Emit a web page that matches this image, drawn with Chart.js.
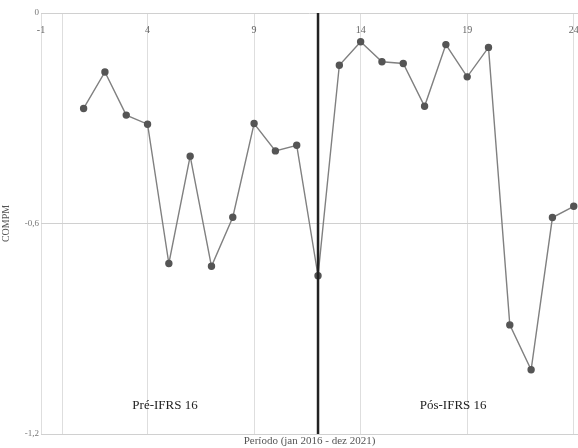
<!DOCTYPE html>
<html>
<head>
<meta charset="utf-8">
<script src="https://cdn.jsdelivr.net/npm/chart.js@4"></script>
<style>
html,body{margin:0;padding:0;background:#fff}
#wrap{width:578px;height:448px}
</style>
</head>
<body>
<div id="wrap"><canvas id="compmChart" width="578" height="448"></canvas></div>
<script>
// periodos 1..24, valores
const periods = [1,2,3,4,5,6,7,8,9,10,11,12,13,14,15,16,17,18,19,20,21,22,23,24]
const compm = [-0.272,-0.168,-0.291,-0.317,-0.714,-0.408,-0.722,-0.582,-0.315,-0.393,-0.377,-0.749,
               -0.149,-0.082,-0.139,-0.144,-0.266,-0.090,-0.182,-0.098,-0.889,-1.017,-0.583,-0.551]
const xTicks = [-1,0,4,9,14,19,24]
const yTicks = [0,-0.6,-1.2]
const breakPeriod = 12
const phaseLabels = ["Pré-IFRS 16","Pós-IFRS 16"]
const phaseX = [4.82,18.34]
const phaseY = -1.12

const serif = "'Liberation Serif','DejaVu Serif',serif"

const overlay = {
  id:"overlay",
  afterDatasetsDraw(chart){
    const c = chart.ctx
    const xs = chart.scales.x
    const ys = chart.scales.y
    const area = chart.chartArea
    c.save()
    // linha vertical da adocao IFRS 16
    const bx = xs.getPixelForValue(breakPeriod)
    c.strokeStyle = "#222"
    c.lineWidth = 2.5
    c.beginPath()
    c.moveTo(bx, area.top)
    c.lineTo(bx, area.bottom)
    c.stroke()
    // rotulos do eixo x dentro do grafico, no topo
    c.fillStyle = "#666"
    c.font = "10px " + serif
    c.textAlign = "center"
    c.textBaseline = "middle"
    xs.ticks.forEach(t=>{
      if(t.value===0) return
      c.fillText(String(t.value), xs.getPixelForValue(t.value), area.top + 17)
    })
    // rotulos dos periodos
    c.fillStyle = "#222"
    c.font = "13px " + serif
    phaseLabels.forEach((txt,i)=>{
      c.fillText(txt, xs.getPixelForValue(phaseX[i]), ys.getPixelForValue(phaseY))
    })
    c.restore()
  }
}

const ctx = document.getElementById("compmChart")

new Chart(ctx, {
  type:"line",
  data:{
    datasets:[{
      label:"COMPM",
      data:periods.map((p,i)=>({x:p,y:compm[i]})),
      borderColor:"#808080",
      borderWidth:1.4,
      pointBackgroundColor:"#555",
      pointBorderColor:"#555",
      pointRadius:3,
      tension:0,
      fill:false
    }]
  },
  options:{
    responsive:false,
    animation:false,
    layout:{autoPadding:false,padding:{top:13,right:0,left:0,bottom:0}},
    plugins:{legend:{display:false},tooltip:{enabled:false}},
    scales:{
      x:{
        type:"linear",
        min:-1,
        max:24.2,
        afterBuildTicks(scale){ scale.ticks = xTicks.map(v=>({value:v})) },
        afterFit(scale){ scale.height = 14 },
        ticks:{display:false},
        grid:{color:"#dedede",drawTicks:false},
        border:{display:false},
        title:{
          display:true,
          text:"Período (jan 2016 - dez 2021)",
          color:"#555",
          font:{family:serif,size:11},
          padding:{top:0,bottom:0}
        }
      },
      y:{
        min:-1.2,
        max:0,
        afterBuildTicks(scale){ scale.ticks = yTicks.map(v=>({value:v})) },
        afterFit(scale){ scale.width = 41 },
        ticks:{
          color:"#777",
          font:{family:serif,size:9},
          padding:2,
          callback:v=> v===0 ? "0" : v.toFixed(1).replace(".",",")
        },
        grid:{color:"#d0d0d0",drawTicks:false},
        border:{display:false},
        title:{
          display:true,
          text:"COMPM",
          color:"#555",
          font:{family:serif,size:10},
          padding:{top:0,bottom:4}
        }
      }
    }
  },
  plugins:[overlay]
})
</script>
</body>
</html>
